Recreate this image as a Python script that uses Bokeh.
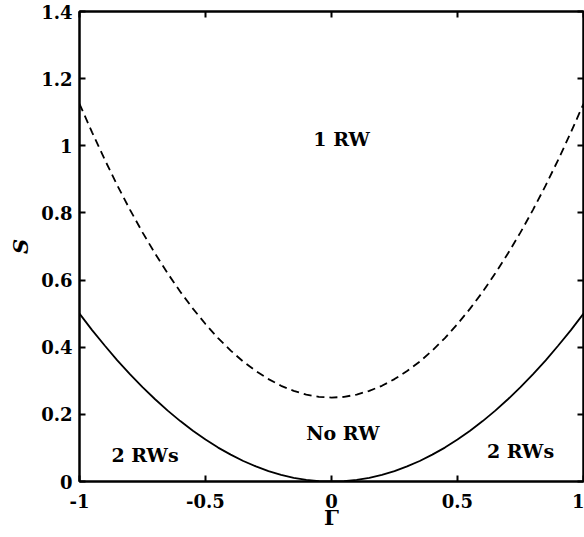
from bokeh.plotting import figure
from bokeh.models import LinearAxis, Range1d, FixedTicker, Label
from bokeh.embed import file_html
from bokeh.resources import INLINE

gamma = [-1.0, -0.95, -0.9, -0.85, -0.8, -0.75, -0.7, -0.65, -0.6, -0.55, -0.5, -0.45, -0.4, -0.35, -0.3,
         -0.25, -0.2, -0.15, -0.1, -0.05, 0.0, 0.05, 0.1, 0.15, 0.2, 0.25, 0.3, 0.35, 0.4, 0.45, 0.5,
         0.55, 0.6, 0.65, 0.7, 0.75, 0.8, 0.85, 0.9, 0.95, 1.0]
s_solid = [0.5, 0.451, 0.405, 0.361, 0.32, 0.281, 0.245, 0.211, 0.18, 0.151, 0.125, 0.101, 0.08, 0.061,
           0.045, 0.031, 0.02, 0.011, 0.005, 0.001, 0.0, 0.001, 0.005, 0.011, 0.02, 0.031, 0.045, 0.061,
           0.08, 0.101, 0.125, 0.151, 0.18, 0.211, 0.245, 0.281, 0.32, 0.361, 0.405, 0.451, 0.5]
s_dashed = [1.125, 1.04, 0.959, 0.882, 0.81, 0.742, 0.679, 0.62, 0.565, 0.515, 0.469, 0.427, 0.39, 0.357,
            0.329, 0.305, 0.285, 0.27, 0.259, 0.252, 0.25, 0.252, 0.259, 0.27, 0.285, 0.305, 0.329, 0.357,
            0.39, 0.427, 0.469, 0.515, 0.565, 0.62, 0.679, 0.742, 0.81, 0.882, 0.959, 1.04, 1.125]
x_ticks = [-1, -0.5, 0, 0.5, 1]
x_tick_labels = {-1: "-1", -0.5: "-0.5", 0: "0", 0.5: "0.5", 1: "1"}
y_ticks = [0, 0.2, 0.4, 0.6, 0.8, 1.0, 1.2, 1.4]
y_tick_labels = {0: "0", 0.2: "0.2", 0.4: "0.4", 0.6: "0.6", 0.8: "0.8", 1.0: "1", 1.2: "1.2", 1.4: "1.4"}
region_labels = ["1 RW", "No RW", "2 RWs", "2 RWs"]
region_x = [0.04, 0.045, -0.74, 0.75]
region_y = [1.02, 0.143, 0.078, 0.09]

FONT = "DejaVu Serif"

p = figure(width=584, height=537, output_backend="svg", toolbar_location=None,
           x_range=Range1d(-1, 1), y_range=Range1d(0, 1.4),
           min_border_left=79, min_border_right=1, min_border_top=11, min_border_bottom=56,
           x_axis_label="Γ", y_axis_label="S")
p.background_fill_color = "white"
p.border_fill_color = "white"
p.outline_line_color = "black"
p.outline_line_width = 2
p.xgrid.visible = False
p.ygrid.visible = False

p.line(gamma, s_solid, line_color="black", line_width=1.8)
p.line(gamma, s_dashed, line_color="black", line_width=1.8, line_dash="8 5")

for ax, ticks, labels in ((p.xaxis[0], x_ticks, x_tick_labels), (p.yaxis[0], y_ticks, y_tick_labels)):
    ax.ticker = FixedTicker(ticks=ticks)
    ax.major_label_overrides = labels
    ax.major_tick_in = 6
    ax.major_tick_out = 0
    ax.minor_tick_in = 0
    ax.minor_tick_out = 0
    ax.axis_line_width = 2
    ax.major_tick_line_width = 2
    ax.major_label_text_font = FONT
    ax.major_label_text_font_style = "bold"
    ax.major_label_text_font_size = "18px"
    ax.major_label_text_color = "black"
    ax.axis_label_text_font = FONT
    ax.axis_label_text_font_size = "21px"
    ax.axis_label_text_color = "black"

p.xaxis[0].major_label_standoff = 12
p.xaxis[0].axis_label_standoff = -6
p.xaxis[0].axis_label_text_font_style = "bold"
p.yaxis[0].major_label_standoff = 7
p.yaxis[0].axis_label_standoff = 5
p.yaxis[0].axis_label_text_font_style = "bold italic"

for side, ticks in (("right", y_ticks), ("above", x_ticks)):
    ax = LinearAxis(ticker=FixedTicker(ticks=ticks))
    ax.major_label_overrides = {t: "" for t in ticks}
    ax.major_label_text_font_size = "1px"
    ax.major_label_standoff = 0
    ax.major_tick_in = 6
    ax.major_tick_out = 0
    ax.minor_tick_in = 0
    ax.minor_tick_out = 0
    ax.axis_line_width = 2
    ax.major_tick_line_width = 2
    p.add_layout(ax, side)

for t, xx, yy in zip(region_labels, region_x, region_y):
    p.add_layout(Label(x=xx, y=yy, text=t, text_font=FONT, text_font_style="bold",
                       text_font_size="19px", text_align="center", text_baseline="middle",
                       text_color="black"))

open("out.html", "w").write(file_html(p, INLINE))
